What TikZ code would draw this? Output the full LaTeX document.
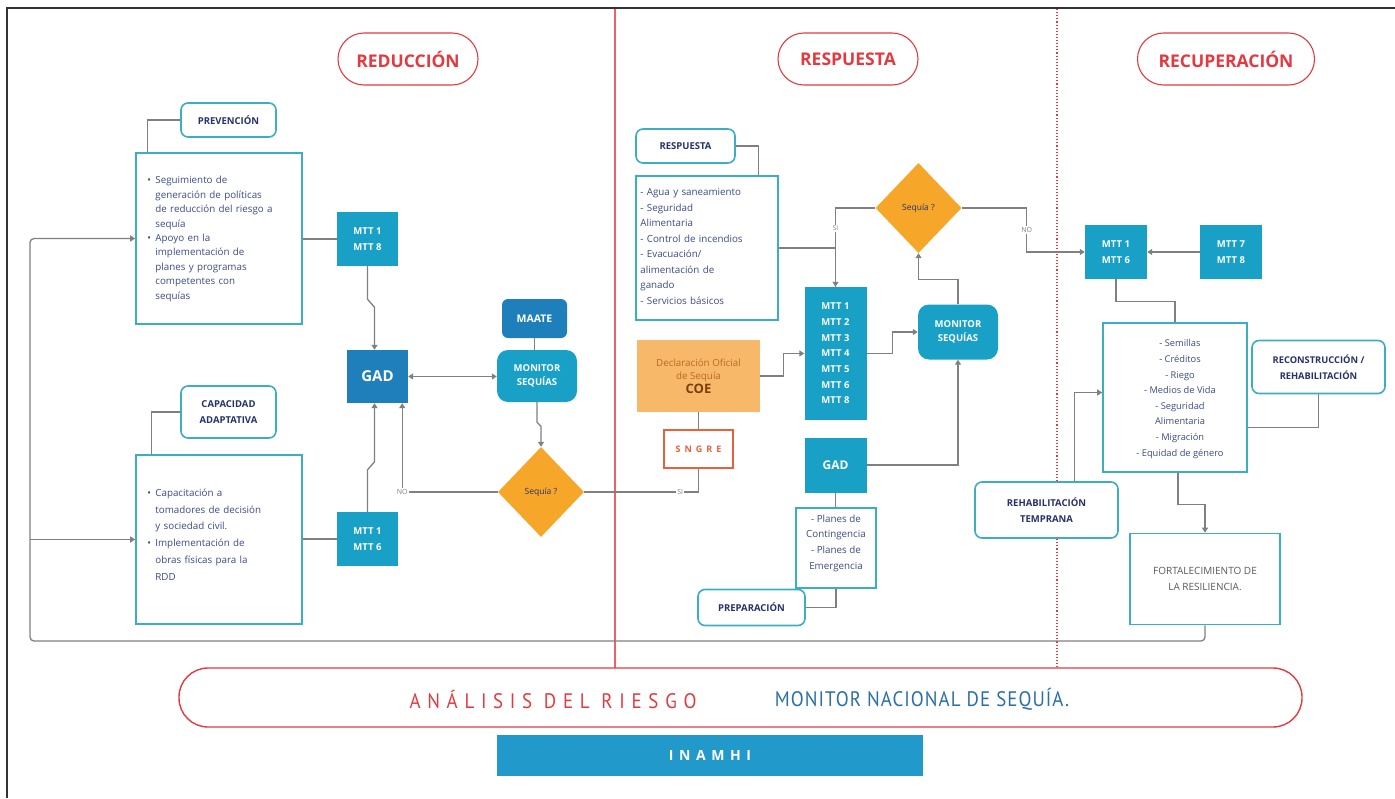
\documentclass[tikz,border=0pt]{standalone}
\usepackage{fontspec}
\setmainfont{Open Sans}
\newfontfamily\narrowfont[FakeStretch=0.9]{PT Sans}
\usetikzlibrary{arrows.meta,shapes.geometric,calc}

\definecolor{mttblue}{HTML}{19A0C6}
\definecolor{gadblue}{HTML}{1E7FBA}
\definecolor{dia}{HTML}{F6A72A}
\definecolor{boxteal}{HTML}{3BAEC4}
\definecolor{navy}{HTML}{27326B}
\definecolor{bodyblue}{HTML}{3B4C86}
\definecolor{redline}{HTML}{E23A40}
\definecolor{divred}{HTML}{E8646A}
\definecolor{wiregray}{HTML}{808080}
\definecolor{coefill}{HTML}{F7B969}
\definecolor{coetext}{HTML}{B86A28}
\definecolor{coedark}{HTML}{7A3E0E}
\definecolor{sngre}{HTML}{E8603C}
\definecolor{monblue}{HTML}{2A6FA8}
\definecolor{inamhi}{HTML}{2299CB}

% bullet paragraph with hanging indent (lines broken with \newline)
\newcommand\bitem[1]{\par\hangindent=8pt\hangafter=1\noindent\makebox[8pt][l]{\textbullet}#1}

\begin{document}
\begin{tikzpicture}[x=1pt,y=-1pt,
  outbox/.style={draw=boxteal,line width=1.6pt,fill=white,inner sep=0pt},
  tag/.style={draw=boxteal,line width=1.6pt,rounded corners=7pt,fill=white,inner sep=0pt,
    font=\bfseries\fontsize{9.5}{16}\selectfont,text=navy,align=center},
  mtt/.style={fill=mttblue,text=white,inner sep=0pt,align=center,
    font=\bfseries\fontsize{9.5}{16}\selectfont},
  monbox/.style={mtt,rounded corners=11pt,font=\bfseries\fontsize{9.5}{14}\selectfont},
  gadbox/.style={fill=gadblue,text=white,inner sep=0pt,font=\bfseries\fontsize{15}{17}\selectfont},
  decision/.style={diamond,fill=dia,inner sep=0pt,aspect=1,minimum width=86pt,minimum height=90pt,
    text=navy,font=\fontsize{8.5}{9}\selectfont},
  phase/.style={draw=redline,line width=1.1pt,rounded corners=26pt,minimum height=52pt,
    text=redline,inner sep=0pt,font=\bfseries\fontsize{17.5}{22}\selectfont},
  bodytxt/.style={inner sep=0pt,anchor=north west,text=bodyblue},
  wire/.style={draw=wiregray,line width=1.3pt},
  arr/.style={wire,-{Triangle[width=6pt,length=5pt]}},
  lbl/.style={fill=white,inner sep=1pt,text=wiregray,font=\fontsize{7}{8}\selectfont}]

\useasboundingbox (0,0) rectangle (1395,798);

% frame
\draw[line width=2pt,draw=black!80] (7,798) -- (7,8) -- (1395,8);

% phase dividers
\draw[draw=divred,line width=1.3pt] (615,9) -- (615,668);
\draw[draw=redline,line width=1.1pt,dotted] (1057,9) -- (1057,668);

% phase titles
\node[phase,minimum width=140pt] (tred) at (408,59) {REDUCCIÓN};
\node[phase,minimum width=140pt] (tres) at (848,59) {RESPUESTA};
\node[phase,minimum width=177pt] (trec) at (1226,59) {RECUPERACIÓN};

% ---------------- reducción ----------------
\node[tag,minimum width=95pt,minimum height=34pt] (prevtag) at (228.5,120) {PREVENCIÓN};
\node[outbox,minimum width=166pt,minimum height=171pt] (prevbody) at (219,238.5) {};
\node[bodytxt,text width=152pt] (prevtxt) at ([xshift=12pt,yshift=-17pt]prevbody.north west)
 {\fontsize{9.8}{14.4}\selectfont\raggedright
  \bitem{Seguimiento de\newline generación de políticas\newline de reducción del riesgo a\newline sequía}
  \bitem{Apoyo en la\newline implementación de\newline planes y programas\newline competentes con\newline sequías}\par};

\node[tag,minimum width=95pt,minimum height=52pt] (captag) at (228.5,412) {CAPACIDAD\\ADAPTATIVA};
\node[outbox,minimum width=166pt,minimum height=169pt] (capbody) at (219,539.5) {};
\node[bodytxt,text width=152pt] (captxt) at ([xshift=12pt,yshift=-25pt]capbody.north west)
 {\fontsize{9.8}{16.8}\selectfont\raggedright
  \bitem{Capacitación a\newline tomadores de decisión\newline y sociedad civil.}
  \bitem{Implementación de\newline obras físicas para la\newline RDD}\par};

\node[mtt,minimum width=61pt,minimum height=54pt] (mttA) at (367.5,239) {MTT 1\\MTT 8};
\node[mtt,minimum width=61pt,minimum height=54pt] (mttB) at (367.5,539) {MTT 1\\MTT 6};
\node[gadbox,minimum width=61pt,minimum height=53pt] (gadL) at (377.5,376.5) {GAD};
\node[fill=gadblue,text=white,rounded corners=6pt,inner sep=0pt,minimum width=65pt,minimum height=39pt,
  font=\bfseries\fontsize{10.5}{12}\selectfont] (maate) at (534.5,318.5) {MAATE};
\node[monbox,minimum width=80pt,minimum height=52pt] (monL) at (537,376) {MONITOR\\SEQUÍAS};
\node[decision] (diaL) at (541,492) {Sequía ?};

\draw[wire] (prevtag.west) -| ([xshift=12pt]prevbody.north west);
\draw[wire] (captag.west) -| ([xshift=16pt]capbody.north west);
\draw[wire] (prevbody.east |- mttA.west) -- (mttA.west);
\draw[wire] (capbody.east |- mttB.west) -- (mttB.west);
\draw[arr] (mttA.south) -- ++(0,33) -- ++(7,8) -- ([xshift=-3pt]gadL.north);
\draw[arr] (mttB.north) -- ++(0,-42) -- ++(7,-8) -- ([xshift=-3pt]gadL.south);
\draw[wire,{Triangle[width=6pt,length=5pt]}-{Triangle[width=6pt,length=5pt]}]
  (gadL.east) -- (gadL.east -| monL.west);
\draw[wire] (maate.south) -- (maate.south |- monL.north);
\draw[arr] (monL.south) -- ++(0,20) -- ++(4,4) -- (diaL.north);
\draw[arr] (diaL.west) -| ([xshift=-6pt]gadL.south east) node[lbl,pos=0.5] {NO};

% ---------------- respuesta ----------------
\node[tag,minimum width=99pt,minimum height=34pt] (resptag) at (685.5,146) {RESPUESTA};
\node[outbox,minimum width=142pt,minimum height=144pt] (respbody) at (707,248) {};
\node[bodytxt,text width=138pt] (resptxt) at ([xshift=5pt,yshift=-13pt]respbody.north west)
 {\fontsize{9.8}{15.5}\selectfont\raggedright
  - Agua y saneamiento\newline - Seguridad\newline Alimentaria\newline - Control de incendios\newline
  - Evacuación/\newline alimentación de\newline ganado\newline - Servicios básicos\par};

\node[fill=coefill,inner sep=0pt,minimum width=123pt,minimum height=72pt,align=center,
  text=coetext,font=\fontsize{9.8}{13}\selectfont] (coe) at (698.5,376)
  {Declaración Oficial\\de Sequía\\[1pt]{\bfseries\fontsize{13}{14}\selectfont\color{coedark}COE}};
\node[draw=sngre,line width=1.5pt,fill=white,inner sep=0pt,minimum width=69pt,minimum height=38pt,
  text=sngre,font=\bfseries\fontsize{9}{10}\selectfont\addfontfeature{LetterSpace=45}] (sngre) at (698.5,449) {SNGRE};

\node[mtt,minimum width=62pt,minimum height=133pt,font=\bfseries\fontsize{9.5}{15.7}\selectfont,align=left]
  (mttcol) at (835.5,353.5) {MTT 1\\MTT 2\\MTT 3\\MTT 4\\MTT 5\\MTT 6\\MTT 8};
\node[mtt,minimum width=62pt,minimum height=55pt,font=\bfseries\fontsize{12}{14}\selectfont] (gadM) at (835.5,465) {GAD};
\node[outbox,minimum width=80pt,minimum height=80pt] (plans) at (836,548) {};
\node[inner sep=0pt,align=center,text=bodyblue,font=\fontsize{9.8}{15.7}\selectfont] (planstxt) at (836,543)
  {- Planes de\\Contingencia\\- Planes de\\Emergencia};
\node[tag,minimum width=107pt,minimum height=36pt] (preptag) at (751.5,607.5) {PREPARACIÓN};

\node[decision] (diaM) at (918.5,208) {Sequía ?};
\node[monbox,minimum width=80pt,minimum height=55pt] (monM) at (958,332) {MONITOR\\SEQUÍAS};

\draw[wire] (resptag.east) -| ([xshift=-20pt]respbody.north east);
\draw[wire] (respbody.east) -| (mttcol.north);
\draw[arr] (diaM.west) -| (mttcol.north) node[lbl,pos=0.63,font=\fontsize{6.5}{7}\selectfont] {SI};
\draw[arr] (coe.east) -- ++(23,0) |- (mttcol.west);
\draw[wire] (coe.south) -- (sngre.north);
\draw[wire] (diaL.east) -| (sngre.south) node[lbl,pos=0.42] {SI};
\draw[arr] (mttcol.east) -- ++(26,0) |- (monM.west);
\draw[arr] (monM.north) -- ++(0,-25) -| (diaM.south);
\draw[arr] (gadM.east) -| (monM.south);
\draw[wire] (gadM.south) -- (gadM.south |- plans.north);
\draw[wire] (preptag.east) -| (plans.south);

% ---------------- recuperación ----------------
\node[mtt,minimum width=62pt,minimum height=54pt] (mttC) at (1116,252) {MTT 1\\MTT 6};
\node[mtt,minimum width=62pt,minimum height=54pt] (mttD) at (1231,252) {MTT 7\\MTT 8};
\node[outbox,minimum width=144pt,minimum height=149pt] (recbody) at (1175,397.5) {};
\node[inner sep=0pt,align=center,text=bodyblue,font=\fontsize{9.3}{15.6}\selectfont] (rectxt) at (1180,399)
  {- Semillas\\- Créditos\\- Riego\\- Medios de Vida\\- Seguridad\\Alimentaria\\- Migración\\- Equidad de género};
\node[tag,minimum width=133pt,minimum height=53pt,font=\bfseries\fontsize{9.3}{16}\selectfont]
  (recontag) at (1318.5,367) {RECONSTRUCCIÓN /\\REHABILITACIÓN};
\node[tag,minimum width=143pt,minimum height=56pt] (rehabtag) at (1046.5,510) {REHABILITACIÓN\\TEMPRANA};
\node[outbox,minimum width=150pt,minimum height=91pt,align=center,text=black!65,
  font=\fontsize{10}{16}\selectfont] (fort) at (1205,579) {FORTALECIMIENTO DE\\LA RESILIENCIA.};

\draw[arr] (diaM.east) -- ++(65,0) |- (mttC.west) node[lbl,pos=0.25] {NO};
\draw[arr] (mttD.west) -- (mttC.east);
\draw[wire] (mttC.south) -- ++(0,22) -| (recbody.north);
\draw[wire] (recontag.south) |- ([yshift=-30pt]recbody.east);
\draw[arr] ([xshift=28pt]rehabtag.north) |- ([yshift=5pt]recbody.west);
\draw[arr] ([xshift=3pt]recbody.south) -- ++(0,32) -| (fort.north);

% feedback loop back to the start of the cycle
\coordinate (loopL) at (30,641);
\draw[arr,rounded corners=4pt] (fort.south) |- (loopL) |- (prevbody.west);
\draw[arr] (loopL |- capbody.west) -- (capbody.west);

% ---------------- bottom band ----------------
\node[draw=redline,line width=1.4pt,rounded corners=29pt,minimum width=1123pt,minimum height=59pt,inner sep=0pt]
  (analisis) at (740.5,697.5) {};
\node[inner sep=0pt,text=redline,font=\narrowfont\fontsize{21}{24}\selectfont\addfontfeature{LetterSpace=32}]
  (riesgo) at (553,699) {ANÁLISIS DEL RIESGO};
\node[inner sep=0pt,text=monblue,font=\narrowfont\fontsize{21}{24}\selectfont\addfontfeature{LetterSpace=5}]
  (monnac) at (922,699) {MONITOR NACIONAL DE SEQUÍA.};
\node[fill=inamhi,inner sep=0pt,minimum width=426pt,minimum height=41pt,text=white,
  font=\bfseries\fontsize{14}{16}\selectfont\addfontfeature{LetterSpace=40}] (inam) at (710,755.5) {INAMHI};

\end{tikzpicture}
\end{document}
